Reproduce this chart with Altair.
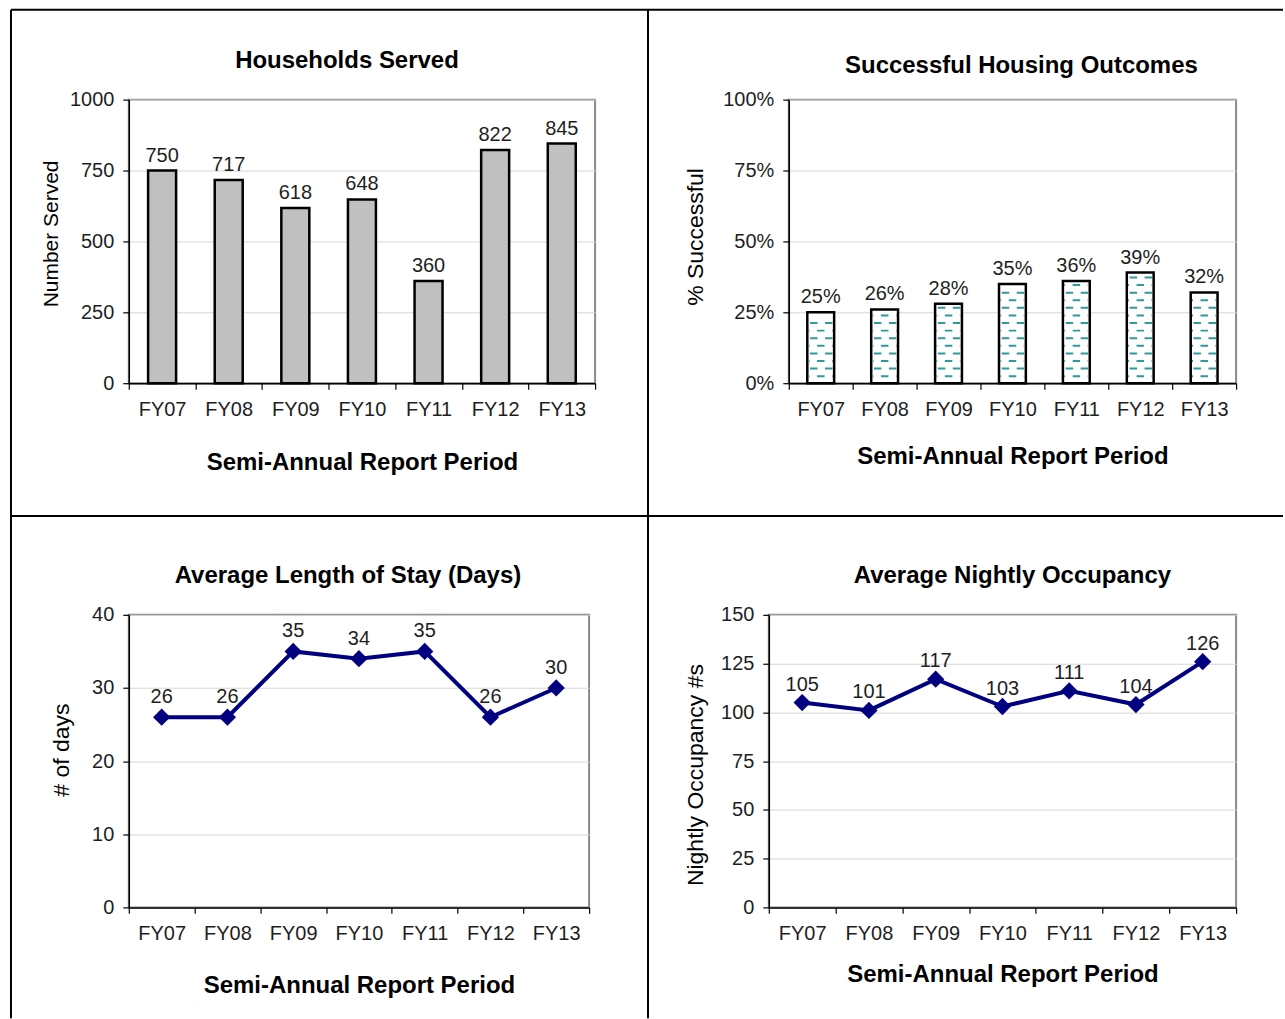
import altair as alt
import pandas as pd

FONT = "Liberation Sans"

periods = ["FY07", "FY08", "FY09", "FY10", "FY11", "FY12", "FY13"]
households_served = [750, 717, 618, 648, 360, 822, 845]
success_share = [0.25, 0.26, 0.28, 0.35, 0.36, 0.39, 0.32]
stay_days = [26, 26, 35, 34, 35, 26, 30]
nightly_occupancy = [105, 101, 117, 103, 111, 104, 126]

NAVY = "#000080"
TEAL = "#2e9b98"
TEXT = "#1e1e1e"
X_TITLE = "Semi-Annual Report Period"

# plot-area sizes of the four panels
A_W, A_H = 467, 284
B_W, B_H = 448, 284
C_W, C_H = 461, 293
D_W, D_H = 468, 293

# origin of the top-left plot area on the page, used for the table frame
A_LEFT, A_TOP = 128, 98
PAGE_RIGHT, PAGE_BOTTOM = 1284, 1018

# the frame drawn inside the first panel widens its bounds, so the grid
# spacing pulls the other cells back over it
FRAME_X2 = PAGE_RIGHT - A_LEFT + 1
FRAME_Y2 = PAGE_BOTTOM - A_TOP + 1
COL_GAP = (788 - A_LEFT) - FRAME_X2 - 106
ROW_GAP = (615 - A_TOP) - FRAME_Y2 - 54


def x_band(title_padding, **kw):
    return alt.X(
        "period:N", sort=periods, title=X_TITLE,
        scale=alt.Scale(type="band", paddingInner=0, paddingOuter=0),
        axis=alt.Axis(labelAngle=0, tickBand="extent", titlePadding=title_padding),
        **kw,
    )


def panel_title(text, dx, offset):
    return alt.TitleParams(
        text, font=FONT, fontSize=24, fontWeight="bold", color="black",
        frame="group", anchor="middle", baseline="alphabetic", dx=dx, offset=offset,
    )


# ---------- Households Served ----------
hh = pd.DataFrame({"period": periods, "served": households_served})
hh_y = alt.Y("served:Q", title="Number Served",
             scale=alt.Scale(domain=[0, 1000]),
             axis=alt.Axis(values=[0, 250, 500, 750, 1000], format="d",
                           titlePadding=8, titleFontSize=21, titleY=134))
hh_bars = alt.Chart(hh).mark_bar(
    color="#c0c0c0", stroke="black", strokeWidth=2.5,
    width=alt.RelativeBandSize(0.42),
).encode(x=x_band(31), y=hh_y)
hh_text = alt.Chart(hh).mark_text(
    font=FONT, fontSize=20, color=TEXT, baseline="alphabetic", dy=-9,
).encode(x=x_band(31, bandPosition=0.5), y=hh_y, text="served:Q")

# table frame around the four panels (pixel offsets from this panel's plot origin)
frame_df = pd.DataFrame({"edge": [0]})
frame = alt.Chart(frame_df).mark_rule(color="black", strokeWidth=2)
frame_top = frame.encode(x=alt.value(10 - A_LEFT), x2=alt.value(PAGE_RIGHT - A_LEFT), y=alt.value(8 - A_TOP))
frame_mid = frame.encode(x=alt.value(10 - A_LEFT), x2=alt.value(PAGE_RIGHT - A_LEFT), y=alt.value(515 - A_TOP))
frame_left = frame.encode(x=alt.value(10 - A_LEFT), y=alt.value(8 - A_TOP), y2=alt.value(PAGE_BOTTOM - A_TOP))
frame_center = frame.encode(x=alt.value(648 - A_LEFT), y=alt.value(8 - A_TOP), y2=alt.value(PAGE_BOTTOM - A_TOP))

panel_a = alt.layer(
    hh_bars, hh_text, frame_top, frame_mid, frame_left, frame_center
).properties(
    width=A_W, height=A_H, title=panel_title("Households Served", -15, -83)
)

# ---------- Successful Housing Outcomes ----------
sh = pd.DataFrame({"period": periods, "share": success_share})
sh_y = alt.Y("share:Q", title="% Successful",
             scale=alt.Scale(domain=[0, 1]),
             axis=alt.Axis(values=[0, 0.25, 0.5, 0.75, 1], format=".0%",
                           titlePadding=15, titleY=137))
sh_bars = alt.Chart(sh).mark_bar(
    color="white", stroke="black", strokeWidth=2.5,
    width=alt.RelativeBandSize(0.42),
).encode(x=x_band(25), y=sh_y)

# dashed fill inside each bar: rows of short dashes up to the bar's value
ROW_START, ROW_STEP, ROW_TOP_GAP = 0.0246, 0.0268, 0.012
rows = []
for p, v in zip(periods, success_share):
    k = 0
    while ROW_START + k * ROW_STEP <= v - ROW_TOP_GAP:
        rows.append({"period": p, "level": ROW_START + k * ROW_STEP, "parity": k % 2})
        k += 1
fill_rows = pd.DataFrame(rows)


def dash_layer(parity, dash_offset):
    return alt.Chart(fill_rows).transform_filter(
        alt.datum.parity == parity
    ).mark_rule(
        color=TEAL, strokeWidth=2, strokeDash=[7.5, 7.5], strokeDashOffset=dash_offset,
    ).encode(
        x=x_band(25, bandPosition=0.31),
        x2=alt.X2("period:N", bandPosition=0.69),
        y=alt.Y("level:Q", scale=alt.Scale(domain=[0, 1])),
    )


sh_text = alt.Chart(sh).mark_text(
    font=FONT, fontSize=20, color=TEXT, baseline="alphabetic", dy=-9,
).encode(x=x_band(25, bandPosition=0.5), y=sh_y, text=alt.Text("share:Q", format=".0%"))

panel_b = alt.layer(
    sh_bars, dash_layer(0, 6.5), dash_layer(1, 13.5), sh_text
).properties(
    width=B_W, height=B_H, title=panel_title("Successful Housing Outcomes", 9, -7)
)

# ---------- Average Length of Stay ----------
st = pd.DataFrame({"period": periods, "days": stay_days})
st_y = alt.Y("days:Q", title="# of days",
             scale=alt.Scale(domain=[0, 40]),
             axis=alt.Axis(values=[0, 10, 20, 30, 40], titlePadding=18, titleY=135))
st_x = x_band(30, bandPosition=0.5)
st_line = alt.Chart(st).mark_line(color=NAVY, strokeWidth=4).encode(x=st_x, y=st_y)
st_pts = alt.Chart(st).mark_point(
    shape="diamond", filled=True, size=300, color=NAVY, opacity=1,
).encode(x=st_x, y=st_y)
st_text = alt.Chart(st).mark_text(
    font=FONT, fontSize=20, color=TEXT, baseline="alphabetic", dy=-14,
).encode(x=st_x, y=st_y, text="days:Q")
panel_c = alt.layer(st_line, st_pts, st_text).properties(
    width=C_W, height=C_H, title=panel_title("Average Length of Stay (Days)", -11, -2)
)

# ---------- Average Nightly Occupancy ----------
oc = pd.DataFrame({"period": periods, "nightly": nightly_occupancy})
oc_y = alt.Y("nightly:Q", title="Nightly Occupancy #s",
             scale=alt.Scale(domain=[0, 150]),
             axis=alt.Axis(values=[0, 25, 50, 75, 100, 125, 150], titlePadding=13, titleY=160))
oc_x = x_band(19, bandPosition=0.5)
oc_line = alt.Chart(oc).mark_line(color=NAVY, strokeWidth=4).encode(x=oc_x, y=oc_y)
oc_pts = alt.Chart(oc).mark_point(
    shape="diamond", filled=True, size=300, color=NAVY, opacity=1,
).encode(x=oc_x, y=oc_y)
oc_text = alt.Chart(oc).mark_text(
    font=FONT, fontSize=20, color=TEXT, baseline="alphabetic", dy=-12,
).encode(x=oc_x, y=oc_y, text="nightly:Q")
panel_d = alt.layer(oc_line, oc_pts, oc_text).properties(
    width=D_W, height=D_H, title=panel_title("Average Nightly Occupancy", 10, -2)
)

chart = alt.concat(
    panel_a, panel_b, panel_c, panel_d,
    columns=2, spacing={"row": ROW_GAP, "column": COL_GAP},
    bounds="full", align="none",
).properties(
    padding={"left": 9, "top": 7, "right": 0, "bottom": 0},
    background="white",
).configure_view(
    stroke="#8a8a8a", strokeWidth=2,
).configure_axis(
    domainColor="black", domainWidth=1.5,
    tickColor="black", tickSize=6, tickWidth=1.2,
    labelFont=FONT, labelFontSize=20, labelColor=TEXT,
    gridColor="#d6d6d6", gridWidth=1,
    titleFont=FONT, titleColor="black",
).configure_axisX(
    grid=False, labelPadding=10, titleFontSize=24, titleFontWeight="bold",
).configure_axisY(
    grid=True, labelPadding=9, titleFontSize=23, titleFontWeight="normal",
)

chart.save("out.html", embed_options={"renderer": "svg", "actions": False})
